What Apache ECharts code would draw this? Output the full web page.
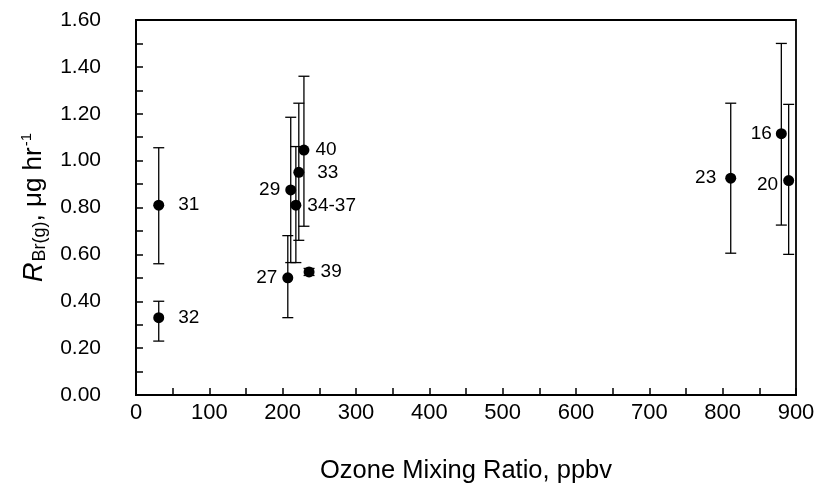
<!DOCTYPE html>
<html>
<head>
<meta charset="utf-8">
<script src="https://cdn.jsdelivr.net/npm/echarts@6/dist/echarts.min.js"></script>
<style>html,body{margin:0;padding:0;background:#fff;}#c{width:818px;height:489px;}</style>
</head>
<body>
<div id="c"></div>
<script>
const pointNames = ['31', '32', '27', '29', '34-37', '33', '40', '39', '23', '16', '20'];
const ozone = [31, 31, 207, 211, 218, 222, 229, 236, 811, 880, 890];
const rate = [0.81, 0.33, 0.50, 0.875, 0.81, 0.95, 1.045, 0.525, 0.925, 1.115, 0.915];
const lower = [0.56, 0.23, 0.33, 0.565, 0.565, 0.66, 0.72, 0.51, 0.605, 0.725, 0.60];
const upper = [1.055, 0.40, 0.68, 1.185, 1.06, 1.245, 1.36, 0.54, 1.245, 1.50, 1.24];
const xTicks = [0, 100, 200, 300, 400, 500, 600, 700, 800, 900];
const yTicks = [0.0, 0.2, 0.4, 0.6, 0.8, 1.0, 1.2, 1.4, 1.6];

// label placement (style, not data)
const labelPlace = {
  '31': ['right', 14, 0], '32': ['right', 14, 0], '27': ['left', 5, 0], '29': ['left', 5, 0],
  '34-37': ['right', 6, 1], '33': ['right', 13, 0], '40': ['right', 6, 0], '39': ['right', 6, 0],
  '23': ['left', 9, 0], '16': ['left', 4, 0], '20': ['left', 5, 4]
};

const FONT = 'Liberation Sans';
const chart = echarts.init(document.getElementById('c'));

const errData = ozone.map((x, i) => [x, lower[i], upper[i]]);
const ptData = ozone.map((x, i) => {
  const p = labelPlace[pointNames[i]];
  return {
    value: [x, rate[i]],
    name: pointNames[i],
    label: { position: p[0], distance: p[1], offset: [0, p[2]] }
  };
});

chart.setOption({
  animation: false,
  backgroundColor: '#fff',
  grid: { left: 136, right: 22, top: 20, bottom: 93, show: true, borderColor: '#000', borderWidth: 1.8, backgroundColor: 'transparent' },
  xAxis: {
    type: 'value', min: xTicks[0], max: xTicks[xTicks.length - 1], interval: 100,
    name: 'Ozone Mixing Ratio, ppbv', nameLocation: 'middle', nameGap: 63,
    nameTextStyle: { fontFamily: FONT, fontSize: 25.5, color: '#000' },
    axisLine: { show: true, lineStyle: { color: '#000', width: 1.8 } },
    axisTick: { show: true, inside: true, length: 7, lineStyle: { color: '#000', width: 1.5 } },
    minorTick: { show: true, splitNumber: 2, length: 7, lineStyle: { color: '#000', width: 1.5 } },
    splitLine: { show: false },
    axisLabel: { fontFamily: FONT, fontSize: 22, color: '#000', margin: 7 }
  },
  yAxis: {
    type: 'value', min: yTicks[0], max: yTicks[yTicks.length - 1], interval: 0.2,
    name: '{i|R}{sub|Br(g)}{n|, μg hr}{sup|-1}', nameLocation: 'middle', nameGap: 80,
    nameRotate: 90,
    nameTextStyle: {
      fontFamily: FONT, fontSize: 26, color: '#000',
      rich: {
        i: { fontFamily: FONT, fontSize: 27, fontStyle: 'italic', color: '#000' },
        sub: { fontFamily: FONT, fontSize: 18, color: '#000', padding: [12, 0, 0, 1] },
        n: { fontFamily: FONT, fontSize: 26, color: '#000' },
        sup: { fontFamily: FONT, fontSize: 15, color: '#000', padding: [0, 0, 14, 1] }
      }
    },
    axisLine: { show: true, lineStyle: { color: '#000', width: 1.8 } },
    axisTick: { show: true, inside: true, length: 7, lineStyle: { color: '#000', width: 1.5 } },
    minorTick: { show: true, splitNumber: 2, length: 7, lineStyle: { color: '#000', width: 1.5 } },
    splitLine: { show: false },
    axisLabel: { fontFamily: FONT, fontSize: 21, color: '#000', margin: 35, formatter: v => v.toFixed(2) }
  },
  series: [
    {
      type: 'custom',
      data: errData,
      z: 2,
      renderItem: function (params, api) {
        const x = api.value(0);
        const lo = api.coord([x, api.value(1)]);
        const hi = api.coord([x, api.value(2)]);
        const cw = 5.5;
        const st = { stroke: '#000', lineWidth: 1.3 };
        return {
          type: 'group',
          children: [
            { type: 'line', shape: { x1: lo[0], y1: lo[1], x2: hi[0], y2: hi[1] }, style: st },
            { type: 'line', shape: { x1: lo[0] - cw, y1: lo[1], x2: lo[0] + cw, y2: lo[1] }, style: st },
            { type: 'line', shape: { x1: hi[0] - cw, y1: hi[1], x2: hi[0] + cw, y2: hi[1] }, style: st }
          ]
        };
      }
    },
    {
      type: 'scatter',
      data: ptData,
      z: 3,
      symbol: 'circle',
      symbolSize: 11,
      itemStyle: { color: '#000', opacity: 1 },
      label: {
        show: true,
        formatter: p => p.name,
        fontFamily: FONT, fontSize: 19, color: '#000', opacity: 1
      }
    }
  ]
});
</script>
</body>
</html>
